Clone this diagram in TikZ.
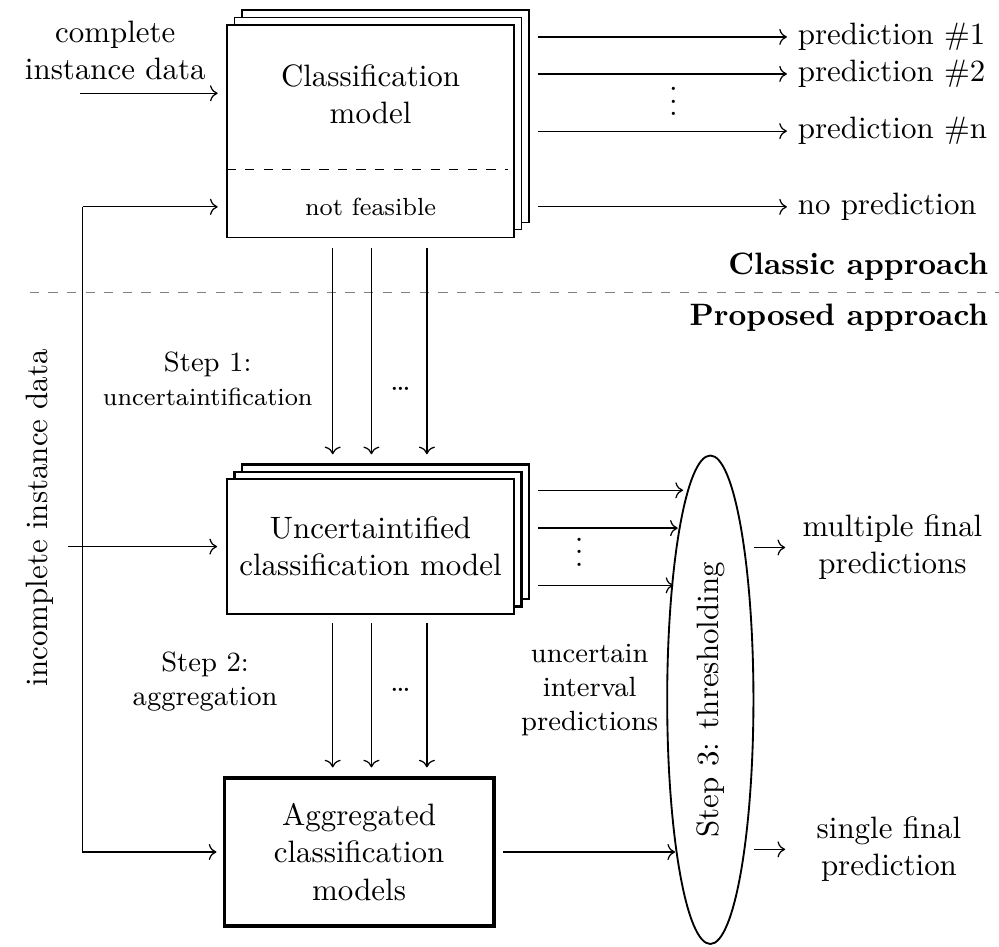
\documentclass[tikz,border=0pt]{standalone}
\usepackage{amsmath,amssymb}
\usepackage{tikz}
\usetikzlibrary{arrows.meta,positioning,shapes.geometric,shadows,calc}

\begin{document}
\begin{tikzpicture}[
    model/.style={rectangle, draw=black, fill=white, minimum width=3.26cm, align=center, inner sep=0pt},
    stack/.style={double copy shadow={shadow xshift=0.085cm, shadow yshift=0.085cm}},
    arrow/.style={->},
    note/.style={align=center},
]
\useasboundingbox (0,0) rectangle (11.35,-10.75);

% --- Classic approach ---
\node[model, stack, minimum height=2.41cm] (cmodel) at (4.21,-1.49) {};
\node[note] (cname) at (4.21,-1.07) {Classification\\model};
\node[note, font=\footnotesize] (nf) at (4.21,-2.35) {not feasible};
\draw[dashed] ([yshift=0.78cm]cmodel.south west) -- ([xshift=-0.08cm,yshift=0.78cm]cmodel.south east);

\node[note] (cdata) at (1.31,-0.57) {complete\\instance data};
\coordinate (cin) at (0.91,-1.06);
\draw[arrow, shorten >=0.1cm] (cin) -- (cin -| cmodel.west);

\node[note, anchor=west] (p1) at (8.94,-0.42) {prediction \#1};
\node[note, anchor=west] (p2) at (8.94,-0.84) {prediction \#2};
\node[note, anchor=west] (pn) at (8.94,-1.49) {prediction \#n};
\node[note, anchor=west] (np) at (8.94,-2.35) {no prediction};
\node (pdots) at (7.65,-1.05) {$\vdots$};
\foreach \p in {p1,p2,pn,np}
  \draw[arrow, shorten <=0.26cm] (cmodel.east |- \p) -- (\p.west);

% separator
\draw[gray, dashed] (0.34,-3.32) -- (11.35,-3.32);
\node[note, anchor=east, font=\bfseries] (classic) at (11.35,-3.03) {Classic approach};
\node[note, anchor=east, font=\bfseries] (proposed) at (11.35,-3.61) {Proposed approach};

% --- Proposed approach ---
\node[model, stack, thick, minimum height=1.53cm] (umodel) at (4.21,-6.21) {Uncertaintified\\classification model};
\node[model, very thick, minimum width=3.06cm, minimum height=1.68cm] (amodel) at (4.08,-9.68) {Aggregated\\classification\\models};

\foreach \x in {3.78,4.22,4.85} {
  \draw[arrow, shorten <=0.11cm, shorten >=0.27cm] (\x,0 |- cmodel.south) -- (\x,0 |- umodel.north);
  \draw[arrow, shorten <=0.09cm, shorten >=0.1cm] (\x,0 |- umodel.south) -- (\x,0 |- amodel.north);
}
\node (dots1) at (4.55,-4.42) {\dots};
\node (dots2) at (4.55,-7.84) {\dots};

\node[note, font=\small] (step1) at (2.36,-4.30) {Step 1:\\{\footnotesize uncertaintification}};
\node[note, font=\small] (step2) at (2.33,-7.74) {Step 2:\\aggregation};

% incomplete data feeds
\node[note, rotate=90] (idata) at (0.45,-5.88) {incomplete instance data};
\coordinate (fb) at (0.94,-2.35);
\draw[arrow, shorten >=0.1cm] (fb) -- (fb -| cmodel.west);
\draw[arrow, shorten >=0.07cm] (fb) |- (amodel.west);
\coordinate (uin) at (0.77,-6.21);
\draw[arrow, shorten >=0.1cm] (uin) -- (umodel.west);

% thresholding
\node[ellipse, draw, semithick, minimum width=0.98cm, minimum height=5.55cm, inner sep=0pt] (thr) at (8.07,-7.95) {};
\node[rotate=90] (thrtext) at (thr.center) {Step 3: thresholding};

\coordinate (u1) at (7.76,-5.57);
\coordinate (u2) at (7.70,-6.00);
\coordinate (u3) at (7.65,-6.65);
\foreach \u in {u1,u2,u3}
  \draw[arrow, shorten <=0.26cm] (umodel.east |- \u) -- (\u);
\node (udots) at (6.58,-6.17) {$\vdots$};
\node[note, font=\small] (interval) at (6.70,-7.84) {uncertain\\interval\\predictions};

\coordinate (a1) at (7.67,-9.68);
\draw[arrow, shorten <=0.08cm] (amodel.east) -- (a1);

\node[note] (multi) at (10.14,-6.22) {multiple final\\predictions};
\node[note] (single) at (10.10,-9.65) {single final\\prediction};
\coordinate (m1) at (8.92,-6.22);
\coordinate (s1) at (8.92,-9.65);
\draw[arrow] (thr.east |- m1) -- (m1);
\draw[arrow] (thr.east |- s1) -- (s1);

\end{tikzpicture}
\end{document}
